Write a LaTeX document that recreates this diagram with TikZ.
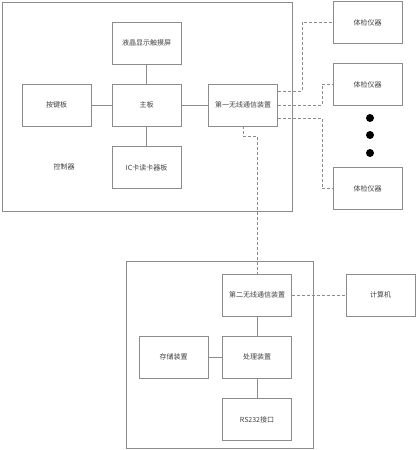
\documentclass[tikz,border=0pt]{standalone}
\usepackage{fontspec}
\setmainfont{Noto Sans CJK SC}
\usepackage{tikz}
\usetikzlibrary{positioning,calc}

\begin{document}
\begin{tikzpicture}[
    x=1pt, y=-1pt,
    blk/.style={rectangle, draw=black!45, line width=0.6pt, minimum width=69pt, minimum height=42pt, align=center, font=\fontsize{7}{8}\selectfont, text=black!75},
    frame/.style={draw=black!45, line width=0.6pt},
    lnk/.style={draw=black!45, line width=0.6pt},
    wlnk/.style={draw=black!45, line width=0.6pt, dash pattern=on 3pt off 2pt},
    dot/.style={circle, fill=black, inner sep=0pt, minimum size=8pt},
]
\useasboundingbox (0,0) rectangle (417,450);
% Outer frames
\draw[frame] (2,2) rectangle (292,211);
\draw[frame] (126,261) rectangle (313,448);
\node[font=\fontsize{7}{8}\selectfont, text=black!75] (ctrl) at (64,167) {控制器};
% Nodes
\node[blk] (lcd)    at (146.5,43)   {液晶显示触摸屏};
\node[blk] (main)   at (146.5,105)  {主板};
\node[blk] (keys)   at (56.5,105)   {按键板};
\node[blk] (ic)     at (146.5,167.5){IC卡读卡器板};
\node[blk] (wl1)    at (243,105)    {第一无线通信装置};
\node[blk] (dev1)   at (367.5,22.5) {体检仪器};
\node[blk] (dev2)   at (367.5,84.5) {体检仪器};
\node[blk] (dev3)   at (367.5,188.5){体检仪器};
\node[dot] (d1) at (370,118) {};
\node[dot] (d2) at (370,135) {};
\node[dot] (d3) at (370,153) {};
\node[blk] (wl2)    at (257,295)    {第二无线通信装置};
\node[blk] (pc)     at (380.5,295)  {计算机};
\node[blk] (store)  at (173.5,357)  {存储装置};
\node[blk] (proc)   at (257,357)    {处理装置};
\node[blk] (rs)     at (257,419.5)  {RS232接口};
% Connections
\draw[lnk] (lcd) -- (main);
\draw[lnk] (keys) -- (main);
\draw[lnk] (main) -- (ic);
\draw[lnk] (main) -- (wl1);
\draw[lnk] (wl2) -- (proc);
\draw[lnk] (store) -- (proc);
\draw[lnk] (proc) -- (rs);
% Wireless links (dashed)
\draw[wlnk] ([yshift=14pt]wl1.east) -- ++(24,0) |- (dev1.west);
\draw[wlnk] (wl1.east) -- ++(44,0) |- (dev2.west);
\draw[wlnk] ([yshift=-13pt]wl1.east) -- ++(44,0) |- (dev3.west);
\draw[wlnk] (wl1.south) -- ++(0,10) -| (wl2.north);
\draw[wlnk] (wl2) -- (pc);
\end{tikzpicture}
\end{document}
